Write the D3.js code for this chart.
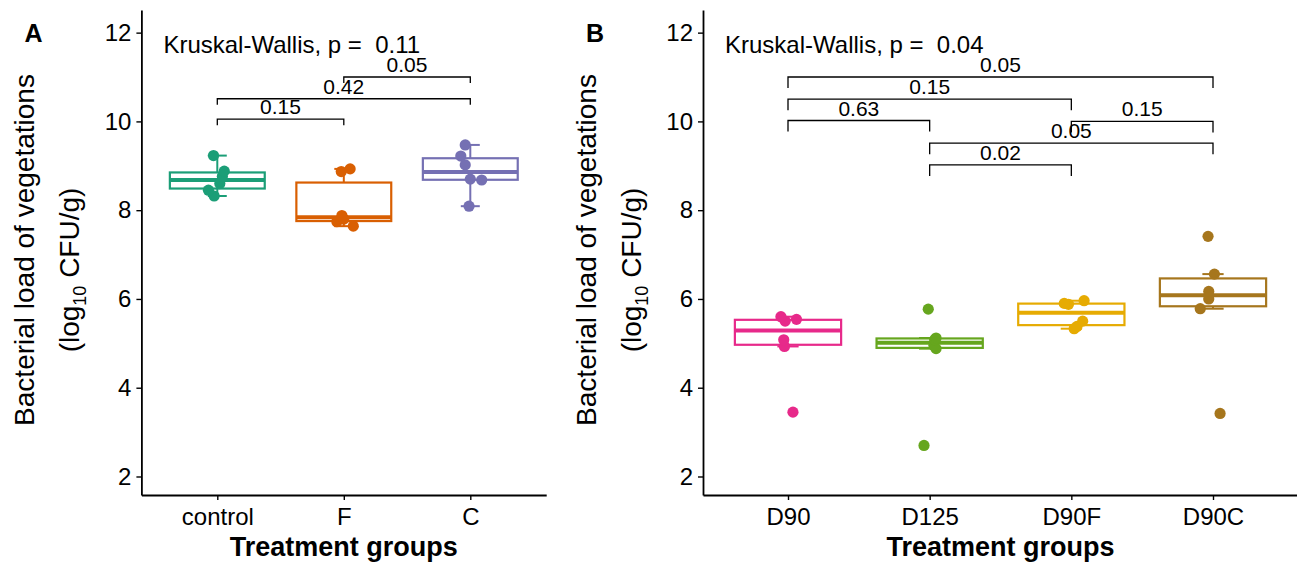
<!DOCTYPE html>
<html>
<head>
<meta charset="utf-8">
<script src="https://cdn.jsdelivr.net/npm/d3@7"></script>
<style>
  body { margin: 0; background: #fff; }
  text { font-family: "Liberation Sans", Arial, sans-serif; fill: #000; }
</style>
</head>
<body>
<div id="chart"></div>
<script>
// panel A : treatment groups
const groupsA = ["control", "F", "C"];
const colorsA = ["#1B9E77", "#D95F02", "#7570B3"];
const loadA = [
  [8.32, 8.45, 8.60, 8.76, 8.88, 9.23],
  [7.64, 7.74, 7.80, 7.88, 8.87, 8.93],
  [8.09, 8.68, 8.70, 9.02, 9.22, 9.47]
];
// horizontal jitter of each point, in group widths
const jitterA = [
  [-0.025, -0.07, 0.02, 0.04, 0.055, -0.03],
  [0.075, -0.055, 0.0, -0.015, -0.02, 0.05],
  [-0.01, 0.09, 0.0, -0.04, -0.075, -0.04]
];
const kruskalA = "0.11";
const pairsA = [
  { a: "control", b: "F", p: "0.15", y: 10.05 },
  { a: "control", b: "C", p: "0.42", y: 10.51 },
  { a: "F", b: "C", p: "0.05", y: 11.0 }
];

// panel B
const groupsB = ["D90", "D125", "D90F", "D90C"];
const colorsB = ["#E7298A", "#66A61E", "#E6AB02", "#A6761D"];
const loadB = [
  [3.45, 4.93, 5.08, 5.50, 5.54, 5.60],
  [2.70, 4.88, 4.95, 5.08, 5.12, 5.77],
  [5.33, 5.38, 5.50, 5.88, 5.90, 5.96],
  [3.42, 5.78, 6.00, 6.17, 6.56, 7.41]
];
const jitterB = [
  [0.035, -0.025, -0.03, -0.02, 0.06, -0.05],
  [-0.04, 0.045, 0.03, 0.035, 0.045, -0.01],
  [0.02, 0.04, 0.08, -0.02, -0.05, 0.09],
  [0.05, -0.09, -0.03, -0.03, 0.01, -0.035]
];
const kruskalB = "0.04";
const pairsB = [
  { a: "D90", b: "D90C", p: "0.05", y: 11.0 },
  { a: "D90", b: "D90F", p: "0.15", y: 10.5 },
  { a: "D90", b: "D125", p: "0.63", y: 10.02 },
  { a: "D90F", b: "D90C", p: "0.15", y: 10.0 },
  { a: "D125", b: "D90C", p: "0.05", y: 9.51 },
  { a: "D125", b: "D90F", p: "0.02", y: 9.02 }
];

const yTicks = [2, 4, 6, 8, 10, 12];

const svg = d3.select("#chart").append("svg")
    .attr("width", 1297)
    .attr("height", 567);

function drawPanel(opt) {
  const g = svg.append("g");
  const n = opt.groups.length;

  const x = d3.scaleLinear().domain([0.4, n + 0.6]).range([opt.left, opt.right]);
  const y = d3.scaleLinear().domain([1.583, 12.51]).range([495, 10]);
  const unit = x(2) - x(1);

  // axes
  const yAxis = g.append("g")
      .attr("transform", `translate(${opt.left},0)`)
      .call(d3.axisLeft(y).tickValues(yTicks).tickSize(5).tickSizeOuter(0).tickPadding(5));
  const xAxis = g.append("g")
      .attr("transform", "translate(0,495)")
      .call(d3.axisBottom(x).tickValues(d3.range(1, n + 1)).tickFormat(i => opt.groups[i - 1])
        .tickSize(5).tickSizeOuter(0).tickPadding(8));
  [yAxis, xAxis].forEach(a => {
    a.select(".domain").attr("stroke", "#000").attr("stroke-width", 1.8);
    a.selectAll(".tick line").attr("stroke", "#000").attr("stroke-width", 1.4);
    a.selectAll(".tick text").attr("font-size", 24).attr("fill", "#000")
      .style("font-family", '"Liberation Sans", Arial, sans-serif');
  });

  // axis titles
  g.append("text")
      .attr("x", (opt.left + opt.right) / 2)
      .attr("y", 556)
      .attr("text-anchor", "middle")
      .attr("font-size", 27)
      .attr("font-weight", "bold")
      .text("Treatment groups");

  g.append("text")
      .attr("transform", `translate(${opt.left - 107},250) rotate(-90)`)
      .attr("text-anchor", "middle")
      .attr("font-size", 28)
      .text("Bacterial load of vegetations");
  const t2 = g.append("text")
      .attr("transform", `translate(${opt.left - 62},270) rotate(-90)`)
      .attr("text-anchor", "middle")
      .attr("font-size", 28);
  t2.append("tspan").text("(log");
  t2.append("tspan").attr("font-size", 18).attr("dy", 7).text("10");
  t2.append("tspan").attr("dy", -7).text(" CFU/g)");

  g.append("text")
      .attr("x", opt.left - 117)
      .attr("y", 42)
      .attr("font-size", 25)
      .attr("font-weight", "bold")
      .text(opt.letter);

  // boxplots
  opt.values.forEach((vals, i) => {
    const col = opt.colors[i];
    const cx = x(i + 1);
    const s = vals.slice().sort(d3.ascending);
    const q1 = d3.quantile(s, 0.25), med = d3.quantile(s, 0.5), q3 = d3.quantile(s, 0.75);
    const iqr = q3 - q1;
    const lo = d3.min(s.filter(v => v >= q1 - 1.5 * iqr));
    const hi = d3.max(s.filter(v => v <= q3 + 1.5 * iqr));
    const half = unit * 0.75 / 2, cap = unit * 0.15 / 2;

    g.append("line").attr("x1", cx).attr("x2", cx).attr("y1", y(lo)).attr("y2", y(hi))
        .attr("stroke", col).attr("stroke-width", 2);
    [lo, hi].forEach(v => {
      g.append("line").attr("x1", cx - cap).attr("x2", cx + cap).attr("y1", y(v)).attr("y2", y(v))
          .attr("stroke", col).attr("stroke-width", 2);
    });
    g.append("rect")
        .attr("x", cx - half).attr("width", half * 2)
        .attr("y", y(q3)).attr("height", y(q1) - y(q3))
        .attr("fill", "#fff").attr("stroke", col).attr("stroke-width", 2.2);
    g.append("line").attr("x1", cx - half).attr("x2", cx + half).attr("y1", y(med)).attr("y2", y(med))
        .attr("stroke", col).attr("stroke-width", 4);

    g.selectAll(null).data(vals).join("circle")
        .attr("cx", (d, j) => cx + opt.jitter[i][j] * unit)
        .attr("cy", d => y(d))
        .attr("r", 5.6)
        .attr("fill", col);
  });

  // pairwise comparison brackets
  const tip = opt.tip;
  opt.pairs.forEach(p => {
    const xa = x(opt.groups.indexOf(p.a) + 1), xb = x(opt.groups.indexOf(p.b) + 1);
    const yy = y(p.y);
    g.append("path")
        .attr("d", `M${xa},${yy + tip}V${yy}H${xb}V${yy + tip}`)
        .attr("fill", "none").attr("stroke", "#000").attr("stroke-width", 1.3);
    g.append("text")
        .attr("x", (xa + xb) / 2).attr("y", yy - 5)
        .attr("text-anchor", "middle")
        .attr("font-size", 21)
        .text(p.p);
  });

  g.append("text")
      .attr("x", opt.left + 22)
      .attr("y", y(11.5) - 2)
      .attr("font-size", 24)
      .style("white-space", "pre")
      .text("Kruskal-Wallis, p =  " + opt.kruskal);
}

drawPanel({ left: 141.4, right: 546.2, letter: "A", groups: groupsA, colors: colorsA,
  values: loadA, jitter: jitterA, pairs: pairsA, kruskal: kruskalA, tip: 6 });
drawPanel({ left: 703, right: 1298, letter: "B", groups: groupsB, colors: colorsB,
  values: loadB, jitter: jitterB, pairs: pairsB, kruskal: kruskalB, tip: 11 });
</script>
</body>
</html>
